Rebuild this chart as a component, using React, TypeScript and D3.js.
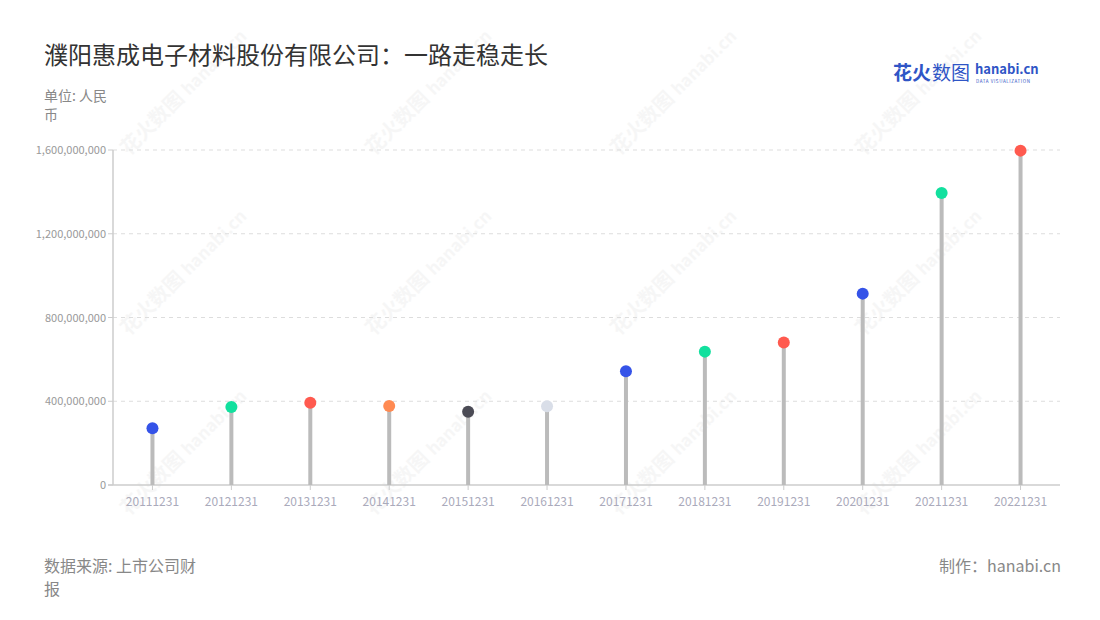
import React from "react";
import * as d3 from "d3";

const categories = ["20111231","20121231","20131231","20141231","20151231","20161231","20171231","20181231","20191231","20201231","20211231","20221231"];
const values = [271000000, 373000000, 393000000, 377000000, 350000000, 376000000, 543000000, 637000000, 681000000, 914000000, 1395000000, 1597000000];
const dotColors = ["#3553E8","#12E09E","#FF5A4F","#FF8A52","#4B4B55","#D9DEE8","#3553E8","#12E09E","#FF5A4F","#3553E8","#12E09E","#FF5A4F"];
const yTicks = [0, 400000000, 800000000, 1200000000, 1600000000];

const W = 1100, H = 620;
const M = { left: 113, right: 1060, top: 150, bottom: 485 };
const FONT = "'Noto Sans CJK SC', 'Noto Sans', sans-serif";

export default function App() {
  const x = d3.scaleBand().domain(categories).range([M.left, M.right]);
  const y = d3.scaleLinear().domain([0, 1600000000]).range([M.bottom, M.top]);
  const fmt = d3.format(",");
  const wmCols = [150, 395, 640, 885];
  const wmRows = [135, 315, 495];
  return (
    <svg width={W} height={H} style={{ position: "absolute", left: 0, top: 0, fontFamily: FONT }}>
      <rect width={W} height={H} fill="#fff" />
      {/* watermarks */}
      {wmCols.map(cx => wmRows.map(cy => (
        <g key={cx + "-" + cy} transform={`translate(${cx},${cy}) rotate(-45)`} opacity={0.35}>
          <text x={-30} y={0} fontSize={20} fontWeight={700} fill="#e8e8e8">花火数图</text>
          <text x={55} y={0} fontSize={17} fontWeight={700} fill="#e8e8e8">hanabi.cn</text>
        </g>
      )))}
      <text x={44} y={64} fontSize={24} fill="#333">濮阳惠成电子材料股份有限公司：一路走稳走长</text>
      <text x={44} y={101} fontSize={14} fill="#888">单位: 人民</text>
      <text x={44} y={120} fontSize={14} fill="#888">币</text>
      {/* logo */}
      <text x={893} y={80} fontSize={19} fontWeight={700} fill="#2F55C6">花火</text>
      <text x={932} y={80} fontSize={19} fill="#2F55C6">数图</text>
      <text x={975} y={74} fontSize={13} fontWeight={700} fill="#2F55C6">hanabi.cn</text>
      <text x={976} y={82.5} fontSize={4.5} fill="#2F55C6" letterSpacing={0.6}>DATA VISUALIZATION</text>
      {/* grid */}
      {yTicks.map(t => (
        <g key={t}>
          {t > 0 && <line x1={M.left} x2={M.right} y1={y(t)} y2={y(t)} stroke="#ddd" strokeDasharray="4,4" />}
          <line x1={M.left - 5} x2={M.left} y1={y(t)} y2={y(t)} stroke="#ccc" />
          <text x={M.left - 7} y={y(t) + 4} fontSize={11} fill="#999" textAnchor="end">{fmt(t)}</text>
        </g>
      ))}
      <line x1={M.left} x2={M.left} y1={M.top} y2={M.bottom} stroke="#ccc" strokeWidth={1.5} />
      <line x1={M.left - 5} x2={M.right} y1={M.bottom} y2={M.bottom} stroke="#ccc" strokeWidth={1.5} />
      {categories.map((c, i) => {
        const cx = (x(c) as number) + x.bandwidth() / 2;
        return (
          <g key={c}>
            <line x1={cx} x2={cx} y1={M.bottom} y2={M.bottom + 5} stroke="#ccc" />
            <text x={cx} y={506} fontSize={12} fill="#aab" textAnchor="middle">{c}</text>
            <line x1={cx} x2={cx} y1={M.bottom} y2={y(values[i])} stroke="#bbb" strokeWidth={4} />
            <circle cx={cx} cy={y(values[i])} r={6} fill={dotColors[i]} />
          </g>
        );
      })}
      <text x={44} y={572} fontSize={16} fill="#888">数据来源: 上市公司财</text>
      <text x={44} y={595} fontSize={16} fill="#888">报</text>
      <text x={1061} y={572} fontSize={16} fill="#888" textAnchor="end">制作：hanabi.cn</text>
    </svg>
  );
}
